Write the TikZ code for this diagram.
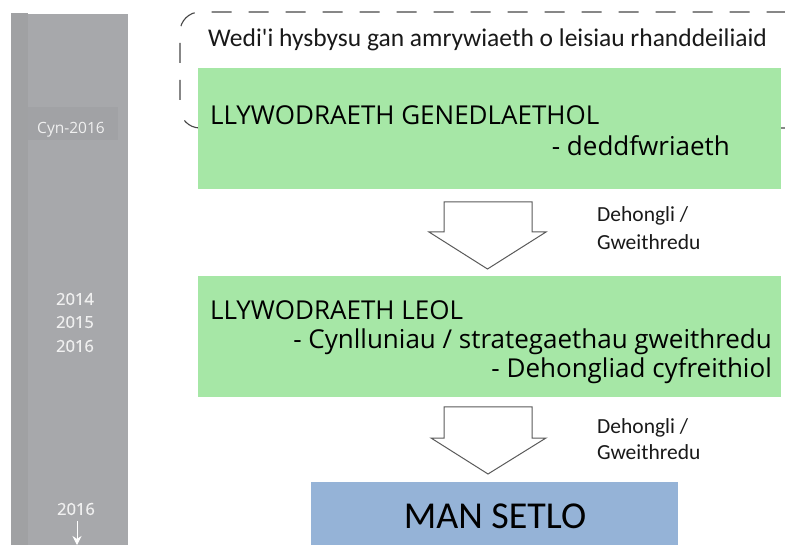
\documentclass[tikz,border=0pt]{standalone}
\usepackage{fontspec}
\usetikzlibrary{arrows.meta}
\setmainfont[Ligatures=TeXOff]{Carlito}
\newfontfamily\gfont{Open Sans}
\newfontfamily\yfont{Open Sans}
\newfontfamily\ybfont[FakeBold=0.8]{Open Sans}
\definecolor{barmain}{RGB}{167,168,171}
\definecolor{barleft}{RGB}{160,161,163}
\definecolor{barlab}{RGB}{161,162,165}
\definecolor{boxgreen}{RGB}{166,231,166}
\definecolor{boxblue}{RGB}{149,179,215}
\definecolor{dashcol}{RGB}{70,70,70}
\definecolor{arrcol}{RGB}{90,90,90}
\tikzset{
  yearlab/.style={text=white!94!black, font=\ybfont\fontsize{16.5}{20}\selectfont, inner sep=0pt},
  cynlab/.style={text=white!94!black, font=\yfont\fontsize{15.5}{20}\selectfont, inner sep=0pt},
  bigtext/.style={font=\gfont\fontsize{26}{30}\selectfont, inner sep=0pt, text=black},
  smalltext/.style={font=\fontsize{21.5}{26}\selectfont, inner sep=0pt, text=black!90},
  greenbox/.style={fill=boxgreen, draw=none},
  blockarrow/.style={draw=arrcol, fill=white, line width=1pt, line join=miter},
  dashbox/.style={draw=dashcol, line width=1.1pt, dash pattern=on 20pt off 17pt, rounded corners=20pt}
}
\begin{document}
\begin{tikzpicture}[x=1pt,y=-1pt]
\useasboundingbox (0,0) rectangle (785,545);
\clip (0,0) rectangle (785,545);
% timeline bar
\fill[barmain] (11,14) rectangle (128,545);
\fill[barleft] (11,13) rectangle (28,545);
\fill[barlab] (28,107) rectangle (118,140);
\node[cynlab, anchor=base] (cyn) at (71,134) {Cyn-2016};
\node[yearlab] (y14) at (75,299) {2014};
\node[yearlab] (y15) at (75,322) {2015};
\node[yearlab] (y16) at (75,346) {2016};
\node[yearlab] (y16b) at (76,509) {2016};
\coordinate (tl) at (77,545);
\draw[white, line width=0.8pt, -{Stealth[length=9pt,width=9pt]}] (77,521) -- (tl);
% dashed stakeholder box
\draw[dashbox, dash phase=-8pt] (180,128) -- (180,12) -- (805,12) -- (805,128) -- cycle;
\node[smalltext, font=\fontsize{25.5}{30}\selectfont, anchor=base west] (wedi) at (208,47) {Wedi'i hysbysu gan amrywiaeth o leisiau rhanddeiliaid};
% national government
\path[greenbox] (198,68) rectangle (781,189);
\node[bigtext, anchor=base west] (llg) at (210,125) {LLYWODRAETH GENEDLAETHOL};
\node[bigtext, anchor=base east] (dedd) at (730,156) {- deddfwriaeth};
% arrow 1
\draw[blockarrow] (444,202) -- (532,202) -- (532,232) -- (546,232) -- (487.5,269) -- (429,232) -- (444,232) -- cycle;
\node[smalltext, anchor=base west] (d1) at (597,222) {Dehongli /};
\node[smalltext, anchor=base west] (g1) at (597,250) {Gweithredu};
% local government
\path[greenbox] (198,276) rectangle (781,397);
\node[bigtext, anchor=base west] (llo) at (210,320) {LLYWODRAETH LEOL};
\node[bigtext, anchor=base east] (cyn2) at (772,349) {- Cynlluniau / strategaethau gweithredu};
\node[bigtext, anchor=base east] (deh) at (772,378) {- Dehongliad cyfreithiol};
% arrow 2
\draw[blockarrow] (444,407) -- (532,407) -- (532,438) -- (546,438) -- (488,474) -- (431,438) -- (444,438) -- cycle;
\node[smalltext, anchor=base west] (d2) at (597,433) {Dehongli /};
\node[smalltext, anchor=base west] (g2) at (597,459) {Gweithredu};
% settlement
\path[fill=boxblue] (311,482) rectangle (678,550);
\node[font=\fontsize{38}{44}\selectfont, anchor=base, inner sep=0pt] (man) at (495,528) {MAN SETLO};
\end{tikzpicture}
\end{document}
